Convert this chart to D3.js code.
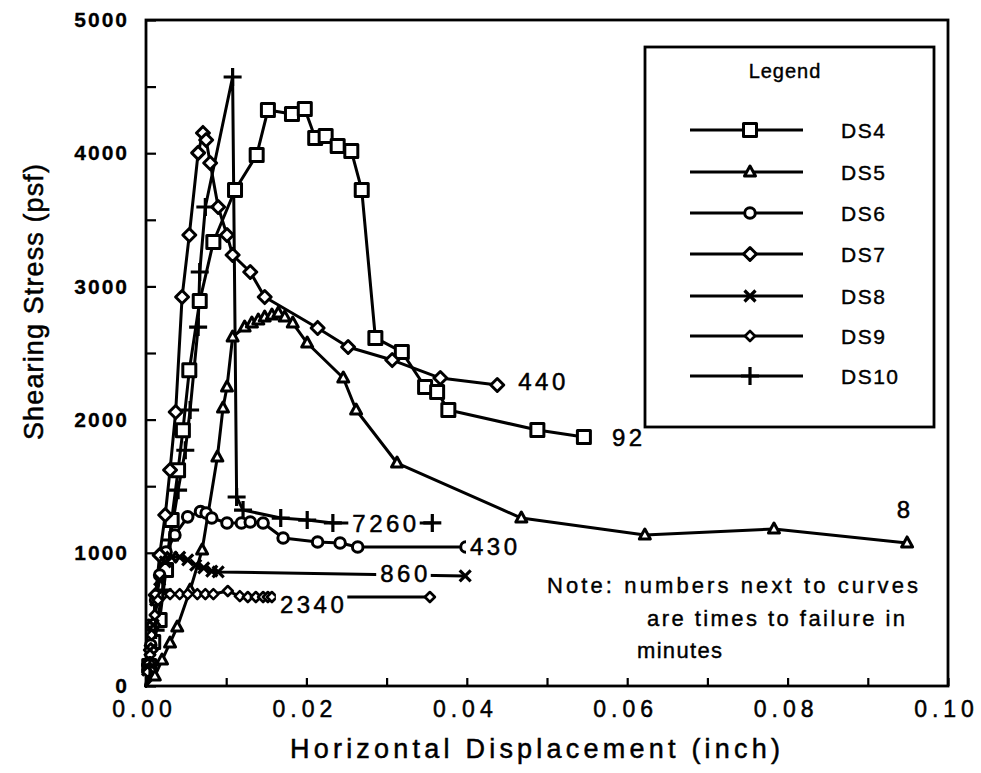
<!DOCTYPE html>
<html>
<head>
<meta charset="utf-8">
<script src="https://cdn.jsdelivr.net/npm/d3@7"></script>
<style>
  html, body { margin: 0; padding: 0; background: #fff; }
  svg { display: block; font-family: "Liberation Sans", Arial, Helvetica, sans-serif; }
</style>
</head>
<body>
<svg id="chart" width="981" height="773"></svg>
<script>
// Direct shear tests: [horizontal displacement (inch), shearing stress (psf)]
const DS4 = [[0,0],[0.0004,150],[0.0009,330],[0.0017,495],[0.0025,870],[0.0032,1246],[0.0040,1620],[0.0046,1920],[0.0054,2370],
  [0.0067,2890],[0.0084,3333],[0.0111,3724],[0.0138,3986],[0.0152,4324],[0.0182,4294],[0.0198,4332],[0.0211,4114],
  [0.0224,4129],[0.0239,4054],[0.0256,4017],[0.0269,3724],[0.0286,2613],[0.0319,2508],[0.0348,2245],[0.0363,2207],
  [0.0377,2072],[0.0488,1922],[0.0546,1870]];
const DS5 = [[0,0],[0.0011,75],[0.0020,195],[0.0030,323],[0.0039,443],[0.0055,720],[0.0070,1021],[0.0089,1719],
  [0.0096,2087],[0.0101,2245],[0.0108,2620],[0.0123,2695],[0.0132,2725],[0.0140,2748],[0.0148,2770],[0.0157,2785],
  [0.0165,2800],[0.0173,2770],[0.0183,2725],[0.0201,2575],[0.0246,2312],[0.0262,2072],[0.0313,1674],[0.0468,1261],
  [0.0622,1134],[0.0783,1179],[0.0949,1074]];
const DS6 = [[0,0],[0.0004,158],[0.0006,308],[0.0009,458],[0.0012,645],[0.0017,833],[0.0025,1006],[0.0036,1134],
  [0.0052,1270],[0.0068,1310],[0.0075,1299],[0.0082,1261],[0.0101,1224],[0.0119,1224],[0.0130,1231],[0.0146,1224],
  [0.0171,1111],[0.0214,1081],[0.0242,1074],[0.0264,1044],[0.0399,1044]];
const DS7 = [[0,0],[0.0004,120],[0.0006,270],[0.0009,458],[0.0012,683],[0.0017,983],[0.0024,1284],[0.0030,1622],
  [0.0037,2057],[0.0045,2920],[0.0054,3386],[0.0065,4002],[0.0071,4152],[0.0075,4099],[0.0080,3926],[0.0090,3596],
  [0.0101,3386],[0.0108,3236],[0.0130,3108],[0.0148,2920],[0.0214,2688],[0.0252,2545],[0.0307,2447],[0.0367,2312],
  [0.0438,2260]];
const DS8 = [[0,0],[0.0002,120],[0.0005,270],[0.0009,458],[0.0012,645],[0.0017,796],[0.0024,931],[0.0032,968],
  [0.0042,968],[0.0052,946],[0.0062,908],[0.0072,886],[0.0082,863],[0.0090,856],[0.0398,826]];
const DS9 = [[0,0],[0.0002,105],[0.0005,233],[0.0007,383],[0.0011,533],[0.0015,645],[0.0021,683],[0.0030,690],
  [0.0042,690],[0.0052,690],[0.0064,690],[0.0074,690],[0.0084,690],[0.0102,713],[0.0117,675],[0.0127,668],
  [0.0137,668],[0.0146,668],[0.0152,668],[0.0157,668],[0.0354,668]];
const DS10 = [[0,0],[0.0005,158],[0.0012,420],[0.0021,720],[0.0030,1096],[0.0040,1470],[0.0049,1770],[0.0055,2072],
  [0.0065,2695],[0.0067,3108],[0.0074,3596],[0.0108,4572],[0.0113,1419],[0.0121,1321],[0.0168,1261],[0.0201,1246],
  [0.0233,1224],[0.0357,1224]];

const seriesNames = ["DS4", "DS5", "DS6", "DS7", "DS8", "DS9", "DS10"];
const seriesData = [DS4, DS5, DS6, DS7, DS8, DS9, DS10];
const seriesMarkers = ["square", "triangle", "circle", "diamond", "cross", "smallDiamond", "plus"];
// Time to failure (minutes) written at the end of each curve
const failureTimes = ["92", "8", "430", "440", "860", "2340", "7260"];

const xTicks = [0, 0.01, 0.02, 0.03, 0.04, 0.05, 0.06, 0.07, 0.08, 0.09, 0.10];
const xTickLabels = ["0.00", "", "0.02", "", "0.04", "", "0.06", "", "0.08", "", "0.10"];
const yTicks = [0, 500, 1000, 1500, 2000, 2500, 3000, 3500, 4000, 4500, 5000];
const yTickLabels = ["0", "", "1000", "", "2000", "", "3000", "", "4000", "", "5000"];

const xTitle = "Horizontal Displacement (inch)";
const yTitle = "Shearing Stress (psf)";
const legendTitle = "Legend";
const noteLines = ["Note: numbers next to curves", "are times to failure in", "minutes"];

// ---------------------------------------------------------------
const FONT = '"Liberation Sans", Arial, Helvetica, sans-serif';
const svg = d3.select("#chart");
const x = d3.scaleLinear().domain([0, 0.1]).range([146, 948]);
const y = d3.scaleLinear().domain([0, 5000]).range([686, 20]);

// slightly heavier lettering
function ink(sel, w) { return sel.attr("fill", "#000").attr("stroke", "#000").attr("stroke-width", w); }

// marker glyphs centred on 0,0
function markerPath(type) {
  const p = d3.path();
  if (type === "square") { p.rect(-6.5, -6.5, 13, 13); }
  else if (type === "triangle") { p.moveTo(0, -6); p.lineTo(5.5, 4); p.lineTo(-5.5, 4); p.closePath(); }
  else if (type === "circle") { p.moveTo(5.3, 0); p.arc(0, 0, 5.3, 0, 2 * Math.PI); p.closePath(); }
  else if (type === "diamond") { p.moveTo(0, -6.5); p.lineTo(6.5, 0); p.lineTo(0, 6.5); p.lineTo(-6.5, 0); p.closePath(); }
  else if (type === "smallDiamond") { p.moveTo(0, -5); p.lineTo(5, 0); p.lineTo(0, 5); p.lineTo(-5, 0); p.closePath(); }
  else if (type === "cross") { p.moveTo(-5.5, -5.5); p.lineTo(5.5, 5.5); p.moveTo(5.5, -5.5); p.lineTo(-5.5, 5.5); }
  else if (type === "plus") { p.moveTo(-9, 0); p.lineTo(9, 0); p.moveTo(0, -9); p.lineTo(0, 9); }
  return p.toString();
}
function styleMarker(sel, type) {
  const open = type !== "cross" && type !== "plus";
  sel.attr("d", markerPath(type))
    .attr("fill", open ? "#fff" : "none")
    .attr("stroke", "#000")
    .attr("stroke-width", type === "plus" || type === "cross" ? 3.2 : (type === "smallDiamond" ? 2.6 : 3))
    .attr("stroke-linejoin", "round");
}

// axes: ticks point into the plot
const yAxis = d3.axisLeft(y).tickValues(yTicks).tickSizeInner(-10).tickSizeOuter(0).tickPadding(17)
  .tickFormat((d, i) => yTickLabels[i]);
svg.append("g").attr("transform", `translate(${x(0)},0)`).call(yAxis)
  .attr("font-family", FONT)
  .call(g => g.select(".domain").remove())
  .call(g => g.selectAll(".tick line").attr("stroke", "#000").attr("stroke-width", 2.2))
  .call(g => g.selectAll(".tick text").call(ink, 0.3).attr("font-size", 21)
    .attr("font-weight", "bold").attr("letter-spacing", 2));

const xAxis = d3.axisBottom(x).tickValues(xTicks).tickSizeInner(-8).tickSizeOuter(0).tickPadding(15)
  .tickFormat((d, i) => xTickLabels[i]);
svg.append("g").attr("transform", `translate(0,${y(0)})`).call(xAxis)
  .attr("font-family", FONT)
  .call(g => g.select(".domain").remove())
  .call(g => g.selectAll(".tick line").attr("stroke", "#000").attr("stroke-width", 2.2))
  .call(g => g.selectAll(".tick text").call(ink, 0.5).attr("font-size", 23)
    .attr("letter-spacing", 5).attr("dx", -2));

// plot frame
svg.append("rect")
  .attr("x", x(0)).attr("y", y(5000))
  .attr("width", x(0.1) - x(0)).attr("height", y(0) - y(5000))
  .attr("fill", "none").attr("stroke", "#000").attr("stroke-width", 2.8);

// axis titles
svg.append("text").attr("x", 535).attr("y", 758).attr("text-anchor", "middle")
  .attr("font-size", 27).attr("textLength", 490).attr("lengthAdjust", "spacing")
  .call(ink, 0.5).text(xTitle);
svg.append("text").attr("transform", "translate(43,302) rotate(-90)").attr("text-anchor", "middle")
  .attr("font-size", 27).attr("textLength", 276).attr("lengthAdjust", "spacing")
  .call(ink, 0.5).text(yTitle);

// curves
const line = d3.line().x(d => x(d[0])).y(d => y(d[1]));
const curves = svg.append("g");
seriesData.forEach(data => {
  curves.append("path").datum(data).attr("d", line)
    .attr("fill", "none").attr("stroke", "#000").attr("stroke-width", 3)
    .attr("stroke-linejoin", "round").attr("stroke-linecap", "round");
});
seriesData.forEach((data, i) => {
  curves.append("g").selectAll("path").data(data.slice(1)).join("path")
    .attr("transform", d => `translate(${x(d[0])},${y(d[1])})`)
    .call(sel => styleMarker(sel, seriesMarkers[i]));
});

// time-to-failure labels, set on a white ground so they break the curve they sit on
const labelPlacement = {
  DS4: [28, 9, "start"], DS5: [-2, -25, "middle"], DS6: [4, 8, "start"], DS7: [21, 5, "start"],
  DS8: [-85, 6, "start"], DS9: [-150, 16, "start"], DS10: [-80, 9, "start"]
};
const labels = svg.append("g");
seriesNames.forEach((name, i) => {
  const last = seriesData[i][seriesData[i].length - 1];
  const [dx, dy, anchor] = labelPlacement[name];
  const g = labels.append("g");
  const t = g.append("text")
    .attr("x", x(last[0]) + dx).attr("y", y(last[1]) + dy)
    .attr("text-anchor", anchor).attr("font-size", 24).attr("letter-spacing", 3.5)
    .call(ink, 0.5).text(failureTimes[i]);
  const b = t.node().getBBox();
  g.insert("rect", "text").attr("x", b.x - 4).attr("y", b.y - 2)
    .attr("width", b.width + 4).attr("height", b.height + 4).attr("fill", "#fff");
});

// note
const noteX = [547, 647, 637], noteW = [371, 258, 85], noteY = [593, 626, 658];
noteLines.forEach((s, i) => {
  svg.append("text").attr("x", noteX[i]).attr("y", noteY[i]).attr("font-size", 22)
    .attr("textLength", noteW[i]).attr("lengthAdjust", "spacing").call(ink, 0.4).text(s);
});

// legend
const lg = svg.append("g");
lg.append("rect").attr("x", 645).attr("y", 47).attr("width", 289).attr("height", 380)
  .attr("fill", "#fff").attr("stroke", "#000").attr("stroke-width", 2.8);
lg.append("text").attr("x", 785).attr("y", 78).attr("text-anchor", "middle")
  .attr("font-size", 20).attr("letter-spacing", 1).call(ink, 0.4).text(legendTitle);
const legendRows = [130, 172, 213, 254, 296, 336, 376];
seriesNames.forEach((name, i) => {
  const ry = legendRows[i];
  lg.append("line").attr("x1", 690).attr("x2", 803).attr("y1", ry).attr("y2", ry)
    .attr("stroke", "#000").attr("stroke-width", 3);
  lg.append("path").attr("transform", `translate(750,${ry})`).call(sel => styleMarker(sel, seriesMarkers[i]));
  lg.append("text").attr("x", 841).attr("y", ry + 8).attr("font-size", 21).attr("letter-spacing", 1.5)
    .call(ink, 0.4).text(name);
});
</script>
</body>
</html>
